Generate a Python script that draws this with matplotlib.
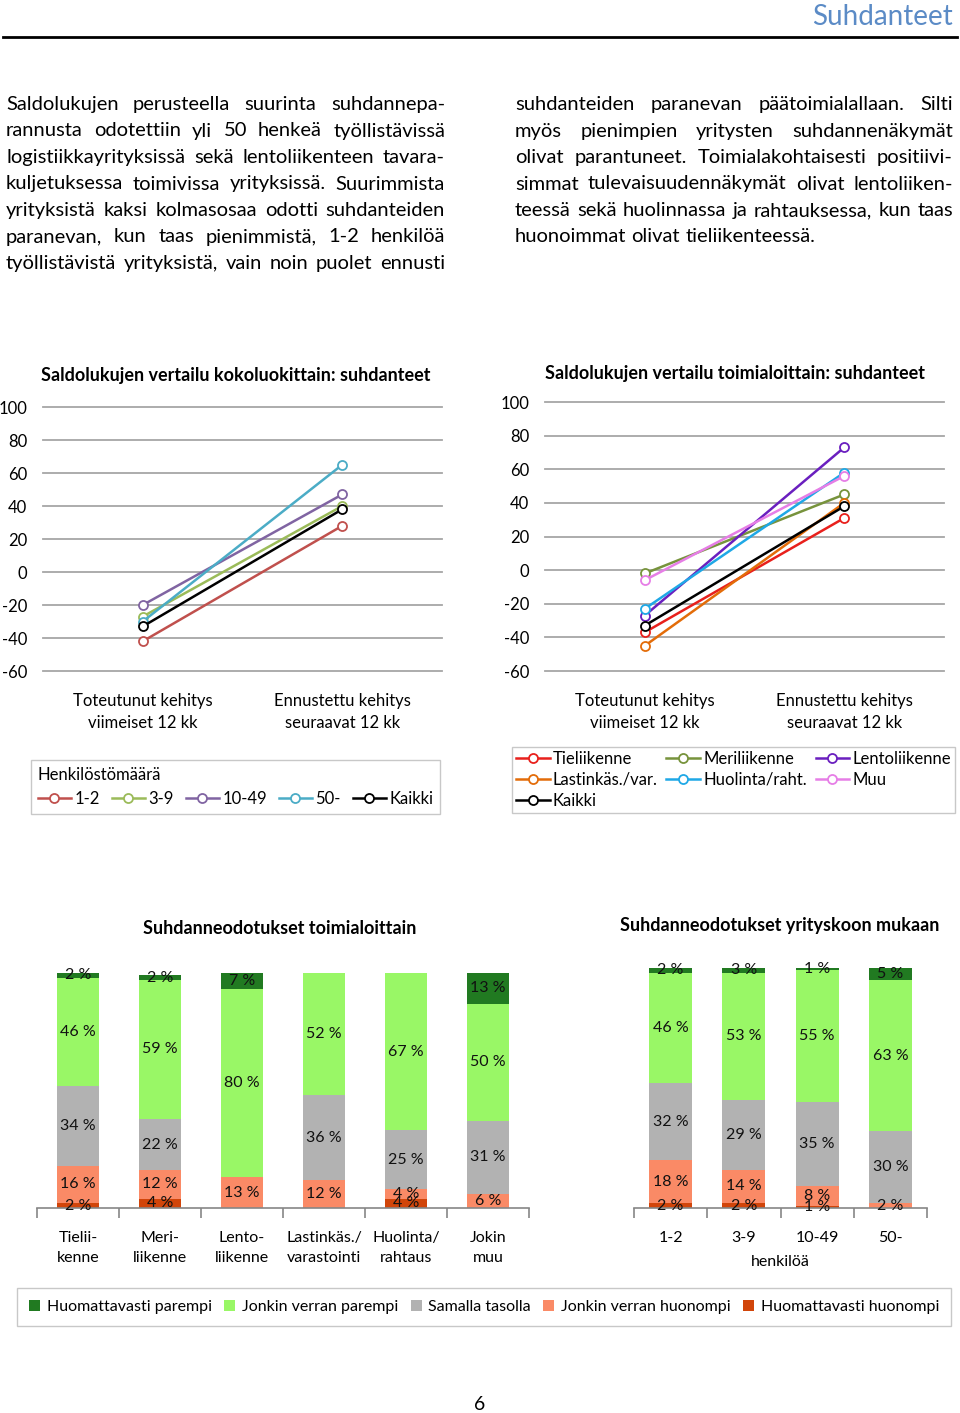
import numpy as np
import matplotlib
matplotlib.use("Agg")
import matplotlib.pyplot as plt
from matplotlib.font_manager import FontProperties
from matplotlib.transforms import blended_transform_factory

plt.rcParams['font.family'] = ['Lato', 'DejaVu Sans']
plt.rcParams['axes.unicode_minus'] = False

W, H = 960, 1413

## TEXT ##
header = "Suhdanteet"
left_lines = [
    "Saldolukujen perusteella suurinta suhdannepa-",
    "rannusta odotettiin yli 50 henkeä työllistävissä",
    "logistiikkayrityksissä sekä lentoliikenteen tavara-",
    "kuljetuksessa toimivissa yrityksissä. Suurimmista",
    "yrityksistä kaksi kolmasosaa odotti suhdanteiden",
    "paranevan, kun taas pienimmistä, 1-2 henkilöä",
    "työllistävistä yrityksistä, vain noin puolet ennusti",
]
right_lines = [
    "suhdanteiden paranevan päätoimialallaan. Silti",
    "myös pienimpien yritysten suhdannenäkymät",
    "olivat parantuneet. Toimialakohtaisesti positiivi-",
    "simmat tulevaisuudennäkymät olivat lentoliiken-",
    "teessä sekä huolinnassa ja rahtauksessa, kun taas",
    "huonoimmat olivat tieliikenteessä.",
]

## LINE CHART DATA ##
periods = ["Toteutunut kehitys\nviimeiset 12 kk", "Ennustettu kehitys\nseuraavat 12 kk"]

size_names = ["1-2", "3-9", "10-49", "50-", "Kaikki"]
size_realized = [-42, -27, -20, -30, -33]
size_forecast = [28, 40, 47, 65, 38]
size_colors = ["#c0504d", "#9bbb59", "#8064a2", "#4bacc6", "#000000"]

branch_names = ["Tieliikenne", "Meriliikenne", "Lentoliikenne",
                "Lastinkäs./var.", "Huolinta/raht.", "Muu", "Kaikki"]
branch_realized = [-37, -2, -27, -45, -23, -6, -33]
branch_forecast = [31, 45, 73, 40, 58, 56, 38]
branch_colors = ["#e8201c", "#77933c", "#6a1fbf", "#e36c09", "#1fa8e6", "#e67ee6", "#000000"]

## BAR CHART DATA ##
answer_names = ["Huomattavasti huonompi", "Jonkin verran huonompi", "Samalla tasolla",
                "Jonkin verran parempi", "Huomattavasti parempi"]
answer_colors = ["#d1450a", "#fa8a66", "#b2b2b2", "#99f766", "#217a21"]

branch_bar_labels = ["Tielii-\nkenne", "Meri-\nliikenne", "Lento-\nliikenne",
                     "Lastinkäs./\nvarastointi", "Huolinta/\nrahtaus", "Jokin\nmuu"]
much_worse_b = [2, 4, 0, 0, 4, 0]
worse_b = [16, 12, 13, 12, 4, 6]
same_b = [34, 22, 0, 36, 25, 31]
better_b = [46, 59, 80, 52, 67, 50]
much_better_b = [2, 2, 7, 0, 0, 13]

size_bar_labels = ["1-2", "3-9", "10-49", "50-"]
much_worse_s = [2, 2, 1, 0]
worse_s = [18, 14, 8, 2]
same_s = [32, 29, 35, 30]
better_s = [46, 53, 55, 63]
much_better_s = [2, 3, 1, 5]


#############################
#        FUNCTIONS          #
#############################

def fx(px):
    return px / W

def fy(py):
    return 1 - py / H

# Justified paragraph lines, one word at a time
def justified(fig, lines, x0, x1, y0, step, size, last_left=False):
    renderer = fig.canvas.get_renderer()
    fp = FontProperties(family=['Lato', 'DejaVu Sans'], size=size)
    space = renderer.get_text_width_height_descent("a a", fp, ismath=False)[0] - \
        renderer.get_text_width_height_descent("aa", fp, ismath=False)[0]
    for i, line in enumerate(lines):
        words = line.split()
        widths = [renderer.get_text_width_height_descent(w, fp, ismath=False)[0] for w in words]
        if last_left and i == len(lines) - 1:
            gap = space
        else:
            gap = max((x1 - x0 - sum(widths)) / (len(words) - 1), 0.5 * space)
        x = x0
        y = y0 + i * step
        for w, wd in zip(words, widths):
            fig.text(fx(x), fy(y), w, fontproperties=fp, ha='left', va='baseline')
            x += wd + gap

def line_chart(rect, names, first, second, colors):
    ax = fig.add_axes(rect)
    for name, a, b, c in zip(names, first, second, colors):
        ax.plot([0, 1], [a, b], color=c, lw=1.8, marker='o', ms=6.5,
                mfc='white', mec=c, mew=1.3, label=name)
    ax.set_xlim(-0.5, 1.5)
    ax.set_ylim(-60, 100)
    ax.set_yticks(range(-60, 101, 20))
    ax.yaxis.grid(True, color='#a6a6a6', lw=1.3, clip_on=False)
    ax.set_axisbelow(True)
    for s in ax.spines.values():
        s.set_visible(False)
    ax.tick_params(axis='y', length=0, pad=11.5, labelsize=12)
    ax.set_xticks([0, 1])
    ax.set_xticklabels(periods, fontsize=12, linespacing=1.5)
    ax.tick_params(axis='x', length=0, pad=15.5)
    return ax

def stacked_bars(rect, labels, series, width):
    ax = fig.add_axes(rect)
    x = np.arange(len(labels))
    bottom = np.zeros(len(labels))
    for vals, color, name in zip(series, answer_colors, answer_names):
        vals = np.array(vals, dtype=float)
        bars = ax.bar(x, vals, width, bottom=bottom, color=color, label=name)
        ax.bar_label(bars, labels=[f"{int(v)} %" if v > 0 else "" for v in vals],
                     label_type='center', fontsize=11.5, color='#111111')
        bottom += vals
    ax.set_xlim(-0.5, len(labels) - 0.5)
    ax.set_ylim(0, 100)
    for s in ['left', 'top', 'right']:
        ax.spines[s].set_visible(False)
    ax.spines['bottom'].set_color('#868686')
    ax.spines['bottom'].set_linewidth(1.2)
    ax.set_yticks([])
    ax.set_xticks(np.arange(len(labels) + 1) - 0.5)
    ax.set_xticklabels([])
    ax.tick_params(axis='x', which='major', length=7, width=1.2, color='#868686')
    ax.set_xticks(x, minor=True)
    ax.set_xticklabels(labels, minor=True, fontsize=11.5, linespacing=1.55)
    ax.tick_params(axis='x', which='minor', length=0, pad=16.5)
    return ax


#############################
#         THE PAGE          #
#############################

fig = plt.figure(figsize=(W / 100, H / 100), dpi=100)

# Header
fig.text(fx(953), fy(17), header, color='#5b8bc6', fontsize=20, ha='right', va='center')
fig.add_artist(plt.Line2D([fx(3), fx(957)], [fy(37), fy(37)], color='black', lw=2))

# Paragraph
justified(fig, left_lines, 6, 445, 110, 26.5, 14.5)
justified(fig, right_lines, 515, 953, 110, 26.5, 14.5, last_left=True)

# Line charts
fig.text(fx(236), fy(375), "Saldolukujen vertailu kokoluokittain: suhdanteet",
         fontsize=13, fontweight='bold', ha='center', va='center')
fig.text(fx(735), fy(373), "Saldolukujen vertailu toimialoittain: suhdanteet",
         fontsize=13, fontweight='bold', ha='center', va='center')

axL = line_chart([fx(43), fy(671), 399 / W, 264 / H], size_names, size_realized, size_forecast, size_colors)
axR = line_chart([fx(545), fy(671), 399 / W, 269 / H], branch_names, branch_realized, branch_forecast, branch_colors)

axL.legend(ncol=5, title="Henkilöstömäärä", loc='upper left',
           bbox_to_anchor=(fx(31), fy(760), 409 / W, 0), bbox_transform=fig.transFigure,
           mode='expand', fancybox=False, edgecolor='#c8c8c8', fontsize=12, title_fontsize=12,
           handlelength=2.0, handletextpad=0.2, columnspacing=0.8, borderaxespad=0,
           borderpad=0.4, alignment='left', framealpha=1)

hR, lR = axR.get_legend_handles_labels()
order = [0, 3, 6, 1, 4, 2, 5]
axR.legend([hR[i] for i in order], [lR[i] for i in order], ncol=3, loc='upper left',
           bbox_to_anchor=(fx(512), fy(747), 443 / W, 0), bbox_transform=fig.transFigure,
           mode='expand', fancybox=False, edgecolor='#c8c8c8', fontsize=12,
           handlelength=2.0, handletextpad=0.2, columnspacing=0.6, borderaxespad=0,
           borderpad=0.25, labelspacing=0.28, framealpha=1)

# Bar charts
fig.text(fx(280), fy(928), "Suhdanneodotukset toimialoittain",
         fontsize=13, fontweight='bold', ha='center', va='center')
fig.text(fx(780), fy(926), "Suhdanneodotukset yrityskoon mukaan",
         fontsize=13, fontweight='bold', ha='center', va='center')

axB1 = stacked_bars([fx(37), fy(1208), 492 / W, 235 / H], branch_bar_labels,
                    [much_worse_b, worse_b, same_b, better_b, much_better_b], 0.52)
axB2 = stacked_bars([fx(634), fy(1208), 293 / W, 240 / H], size_bar_labels,
                    [much_worse_s, worse_s, same_s, better_s, much_better_s], 0.59)
axB2.text(0.5, fy(1262), "henkilöä", transform=blended_transform_factory(axB2.transAxes, fig.transFigure),
          ha='center', va='center', fontsize=11.5)

hB, lB = axB1.get_legend_handles_labels()
fig.legend(hB[::-1], lB[::-1], ncol=5, loc='upper left',
           bbox_to_anchor=(fx(17), fy(1288), 934 / W, 0),
           mode='expand', fancybox=False, edgecolor='#c8c8c8', fontsize=11.5,
           handlelength=0.7, handleheight=0.7, handletextpad=0.4, columnspacing=1.0,
           borderaxespad=0, borderpad=0.75, framealpha=1)

# Page number
fig.text(fx(480), fy(1404), "6", fontsize=14, ha='center', va='center')

fig.savefig("out.png", dpi=100)
